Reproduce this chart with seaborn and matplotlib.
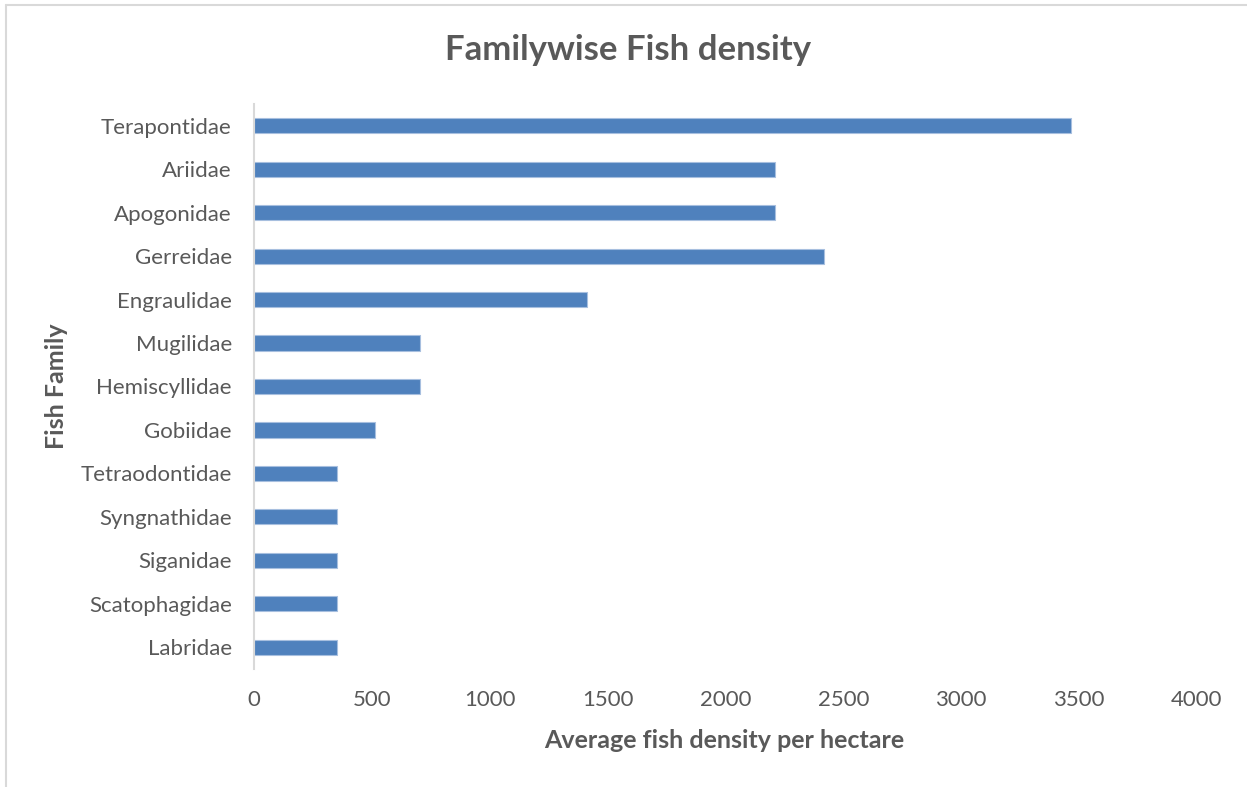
import matplotlib
matplotlib.use("Agg")
import matplotlib.pyplot as plt
import seaborn as sns
import pandas as pd
from matplotlib.lines import Line2D

# Fish families, top to bottom
families = ["Terapontidae", "Ariidae", "Apogonidae", "Gerreidae", "Engraulidae",
            "Mugilidae", "Hemiscyllidae", "Gobiidae", "Tetraodontidae",
            "Syngnathidae", "Siganidae", "Scatophagidae", "Labridae"]
# Average density (fish per hectare)
density = [3464, 2210, 2210, 2416, 1412, 705, 705, 512, 353, 353, 353, 353, 353]
x_ticks = [0, 500, 1000, 1500, 2000, 2500, 3000, 3500, 4000]

df = pd.DataFrame({"family": families, "density": density})

sns.set_theme(style="white")
plt.rcParams["font.family"] = ["Lato", "DejaVu Sans"]

TEXT = "#595959"
BAR = "#4f81bd"

fig = plt.figure(figsize=(12.47, 7.87), dpi=100)
ax = fig.add_axes([254 / 1247, 1 - 669 / 787, (1197 - 254) / 1247, (669 - 104) / 787])

sns.barplot(data=df, x="density", y="family", order=families, color=BAR,
            saturation=1, width=0.35, edgecolor="#a7bfdf", linewidth=0.8, ax=ax)

ax.set_xlim(0, 4000)
ax.set_ylim(len(families) - 0.5, -0.5)
ax.set_xticks(x_ticks)
ax.set_xticklabels([str(t) for t in x_ticks])
ax.tick_params(axis="x", length=0, pad=15, labelsize=16, labelcolor=TEXT)
ax.tick_params(axis="y", length=0, pad=16, labelsize=16, labelcolor=TEXT)

for side in ["top", "right", "bottom"]:
    ax.spines[side].set_visible(False)
ax.spines["left"].set_color("#d9d9d9")
ax.spines["left"].set_linewidth(1.5)
ax.grid(False)

ax.set_xlabel("Average fish density per hectare", fontsize=18, fontweight="bold",
              color=TEXT, va="center")
ax.xaxis.set_label_coords(0.499, (669 - 741) / 565)
ax.set_ylabel("Fish Family", fontsize=18, fontweight="bold", color=TEXT, va="center")
ax.yaxis.set_label_coords((57 - 254) / 943, 0.5)

fig.text(628 / 1247, 1 - 50 / 787, "Familywise Fish density", fontsize=25,
         fontweight="bold", color=TEXT, ha="center", va="center")

# Chart area frame (left and top edges)
fig.add_artist(Line2D([6 / 1247, 6 / 1247], [0, 1 - 5 / 787], transform=fig.transFigure,
                      color="#d9d9d9", linewidth=1.5))
fig.add_artist(Line2D([6 / 1247, 1], [1 - 5 / 787, 1 - 5 / 787], transform=fig.transFigure,
                      color="#d9d9d9", linewidth=1.5))

fig.savefig("out.png", dpi=100, facecolor="white")
